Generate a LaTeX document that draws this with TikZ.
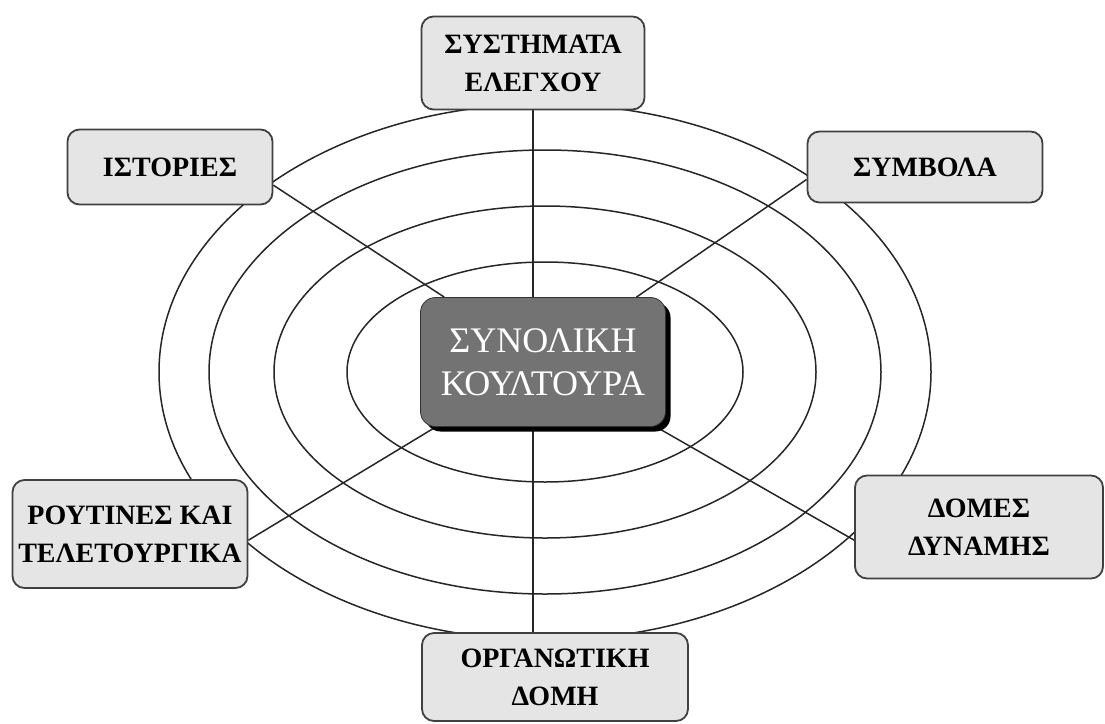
\documentclass[tikz,border=0pt]{standalone}
\usepackage{fontspec}
\setmainfont{Liberation Serif}
\usetikzlibrary{backgrounds,shadows}

\begin{document}
\begin{tikzpicture}[
        x=1pt, y=-1pt,
        every node/.style={font=\fontsize{28}{38}\selectfont\bfseries, align=center},
        item/.style={draw=black!75, line width=1.8pt, rounded corners=12pt, fill=black!10, inner sep=0pt},
        core/.style={draw=black!80, line width=0.8pt, rounded corners=15pt, fill=black!55, text=white,
            font=\fontsize{36}{43}\selectfont, minimum width=245pt, minimum height=129pt, inner sep=0pt,
            drop shadow={shadow xshift=5pt, shadow yshift=-5pt, fill=black, opacity=1}},
        ring/.style={line width=1.5pt, black!85},
        spoke/.style={line width=1.5pt, black!85}
    ]
        \useasboundingbox (0,0) rectangle (1105,723);

        % Centre
        \node[core] (core) at (543,362) {ΣΥΝΟΛΙΚΗ\\ΚΟΥΛΤΟΥΡΑ};

        % Elements around the centre
        \node[item, minimum width=223pt, minimum height=93pt] (sys) at (533,63) {ΣΥΣΤΗΜΑΤΑ\\ΕΛΕΓΧΟΥ};
        \node[item, minimum width=205pt, minimum height=75pt] (ist) at (170,167) {ΙΣΤΟΡΙΕΣ};
        \node[item, minimum width=235pt, minimum height=71pt] (sym) at (925,167) {ΣΥΜΒΟΛΑ};
        \node[item, minimum width=235pt, minimum height=108pt] (rout) at (130,534) {ΡΟΥΤΙΝΕΣ ΚΑΙ\\ΤΕΛΕΤΟΥΡΓΙΚΑ};
        \node[item, minimum width=248pt, minimum height=103pt] (dom) at (979,527) {ΔΟΜΕΣ\\ΔΥΝΑΜΗΣ};
        \node[item, minimum width=266pt, minimum height=88pt] (org) at (555,677) {ΟΡΓΑΝΩΤΙΚΗ\\ΔΟΜΗ};

        \begin{scope}[on background layer]
            % Rings
            \draw[ring] (545,372) ellipse [x radius=198pt, y radius=110pt];
            \draw[ring] (545,372) ellipse [x radius=271pt, y radius=166pt];
            \draw[ring] (545,372) ellipse [x radius=336pt, y radius=222pt];
            \draw[ring] (545,372) ellipse [x radius=386pt, y radius=268pt];

            % Spokes
            \draw[spoke] (sys.south) -- (sys.south |- org.north);
            \draw[spoke] (ist.-10) -- (core);
            \draw[spoke] (sym.186) -- (core);
            \draw[spoke] (rout.-3) -- (core);
            \draw[spoke] (dom.186) -- (core);
        \end{scope}

    \end{tikzpicture}
\end{document}
